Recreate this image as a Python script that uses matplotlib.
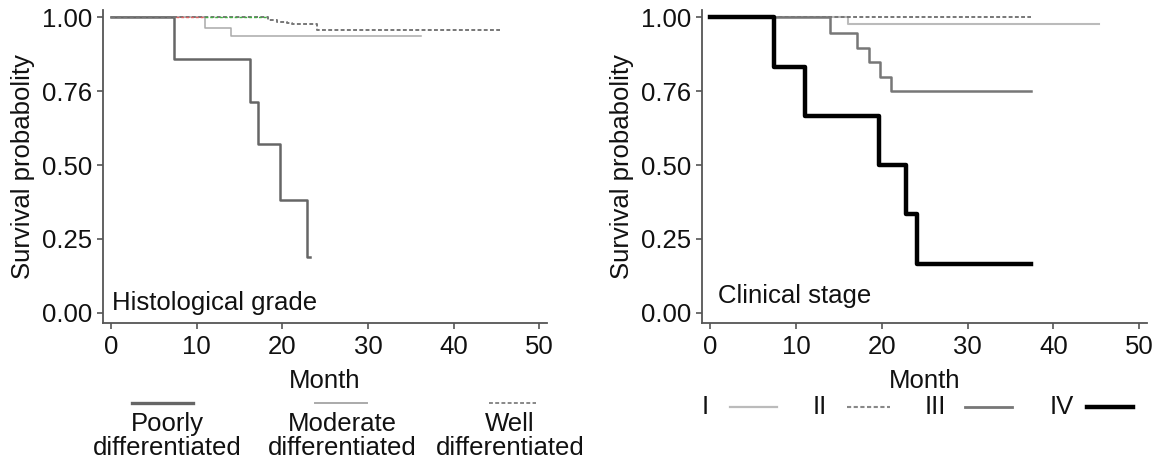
import matplotlib
matplotlib.use("Agg")
import matplotlib.pyplot as plt
from matplotlib.lines import Line2D

plt.rcParams['font.family'] = ['Liberation Sans', 'DejaVu Sans']

# ---------------- data ----------------
# Histological grade
poor_t = [0, 7.3, 16.2, 17.2, 19.7, 22.9]
poor_s = [1.0, 0.857, 0.714, 0.571, 0.381, 0.19]
poor_end = 23.2

mod_t = [0, 11.0, 14.0]
mod_s = [1.0, 0.962, 0.935]
mod_end = 36.2

well_t = [0, 18.3, 19.4, 20.5, 21.1, 24.0]
well_s = [1.0, 0.99, 0.985, 0.98, 0.975, 0.957]
well_end = 45.4

# Clinical stage
st1_t = [0, 16.1]
st1_s = [1.0, 0.977]
st1_end = 45.3

st2_t = [0]
st2_s = [1.0]
st2_end = 37.4

st3_t = [0, 14.0, 17.1, 18.5, 19.8, 21.1]
st3_s = [1.0, 0.947, 0.895, 0.848, 0.796, 0.75]
st3_end = 37.4

st4_t = [0, 7.4, 11.1, 19.7, 22.8, 24.1]
st4_s = [1.0, 0.833, 0.667, 0.50, 0.333, 0.167]
st4_end = 37.4

x_ticks = [0, 10, 20, 30, 40, 50]
y_ticks = [0.0, 0.25, 0.50, 0.75, 1.00]
y_tick_labels = ["0.00", "0.25", "0.50", "0.76", "1.00"]

grade_labels = ["Poorly\ndifferentiated", "Moderate\ndifferentiated", "Well\ndifferentiated"]
stage_labels = ["I", "II", "III", "IV"]

# ---------------- figure ----------------
W, H = 1156, 461
fig = plt.figure(figsize=(W / 100, H / 100), dpi=100)

FS = 18.5
AX_COL = "#555555"
TXT = "#111111"


def px_axes(x0, x1, ytop, ybot):
    return fig.add_axes([x0 / W, 1 - ybot / H, (x1 - x0) / W, (ybot - ytop) / H])


def km(ax, t, s, end, **kw):
    xs = list(t) + [end]
    ys = list(s) + [s[-1]]
    ax.step(xs, ys, where='post', **kw)


def style(ax):
    ax.set_xlim(-0.95, 50.9)
    ax.set_ylim(-0.034, 1.024)
    ax.set_xticks(x_ticks)
    ax.set_yticks(y_ticks)
    ax.set_yticklabels(y_tick_labels)
    for sp in ["top", "right"]:
        ax.spines[sp].set_visible(False)
    for sp in ["left", "bottom"]:
        ax.spines[sp].set_color(AX_COL)
        ax.spines[sp].set_linewidth(1.3)
    ax.tick_params(axis='both', direction='out', length=4.5, width=1.2,
                   color=AX_COL, labelsize=FS, labelcolor=TXT, pad=3)
    ax.tick_params(axis='x', pad=4)
    ax.set_xlabel("Month", fontsize=FS, labelpad=7, color=TXT)
    ax.set_ylabel("Survival probabolity", fontsize=FS, labelpad=5, color=TXT)


# Left panel
axL = px_axes(103, 547, 10, 323)
style(axL)
km(axL, mod_t, mod_s, mod_end, color="#aaaaaa", lw=1.1, zorder=2)
km(axL, poor_t, poor_s, poor_end, color="#666666", lw=1.8, zorder=3)
km(axL, well_t, well_s, well_end, color="#777777", lw=1.4, ls=(0, (2, 1.2)), zorder=4)
# colored artifacts visible along the top line
axL.plot([7.6, 11.0], [1.0, 1.0], color="#e06060", lw=1.0, ls=(0, (2, 1.5)), zorder=5)
axL.plot([11.0, 18.3], [1.0, 1.0], color="#40b040", lw=1.0, ls=(0, (2, 1.5)), zorder=5)
axL.text(0.02, 0.065, "Histological grade", transform=axL.transAxes,
         fontsize=FS, va='center', ha='left', color=TXT)

# Right panel
axR = px_axes(702, 1147, 10, 323)
style(axR)
km(axR, st1_t, st1_s, st1_end, color="#bbbbbb", lw=1.5, zorder=2)
km(axR, st3_t, st3_s, st3_end, color="#777777", lw=1.8, zorder=3)
km(axR, st2_t, st2_s, st2_end, color="#777777", lw=1.4, ls=(0, (2, 1.2)), zorder=4)
km(axR, st4_t, st4_s, st4_end, color="#000000", lw=3.2, zorder=5)
axR.text(0.035, 0.085, "Clinical stage", transform=axR.transAxes,
         fontsize=FS, va='center', ha='left', color=TXT)

# ---------------- legends (figure pixel coords) ----------------
def fx(x):
    return x / W


def fy(y):
    return 1 - y / H


# Left legend: line sample above, label below
grade_styles = [
    dict(color="#666666", lw=2.4, ls='-'),
    dict(color="#aaaaaa", lw=1.4, ls='-'),
    dict(color="#888888", lw=1.4, ls=(0, (2, 1.2))),
]
grade_line_x = [(132, 193), (315, 367), (489, 536)]
grade_centers = [167, 342, 510]
for lab, st, (xa, xb), cx in zip(grade_labels, grade_styles, grade_line_x, grade_centers):
    fig.add_artist(Line2D([fx(xa), fx(xb)], [fy(403), fy(403)], transform=fig.transFigure, **st))
    fig.text(fx(cx), fy(436), lab, fontsize=FS, ha='center', va='center',
             linespacing=0.95, color=TXT)

# Right legend: label then line sample
stage_styles = [
    dict(color="#bbbbbb", lw=1.6, ls='-'),
    dict(color="#888888", lw=1.5, ls=(0, (2, 1.2))),
    dict(color="#777777", lw=2.0, ls='-'),
    dict(color="#000000", lw=3.2, ls='-'),
]
stage_text_x = [705, 820, 935, 1062]
stage_line_x = [(730, 777), (847, 890), (965, 1012), (1087, 1133)]
for lab, st, tx, (xa, xb) in zip(stage_labels, stage_styles, stage_text_x, stage_line_x):
    fig.text(fx(tx), fy(407), lab, fontsize=FS, ha='center', va='center', color=TXT)
    fig.add_artist(Line2D([fx(xa), fx(xb)], [fy(407), fy(407)], transform=fig.transFigure, **st))

fig.savefig("out.png", dpi=100)
